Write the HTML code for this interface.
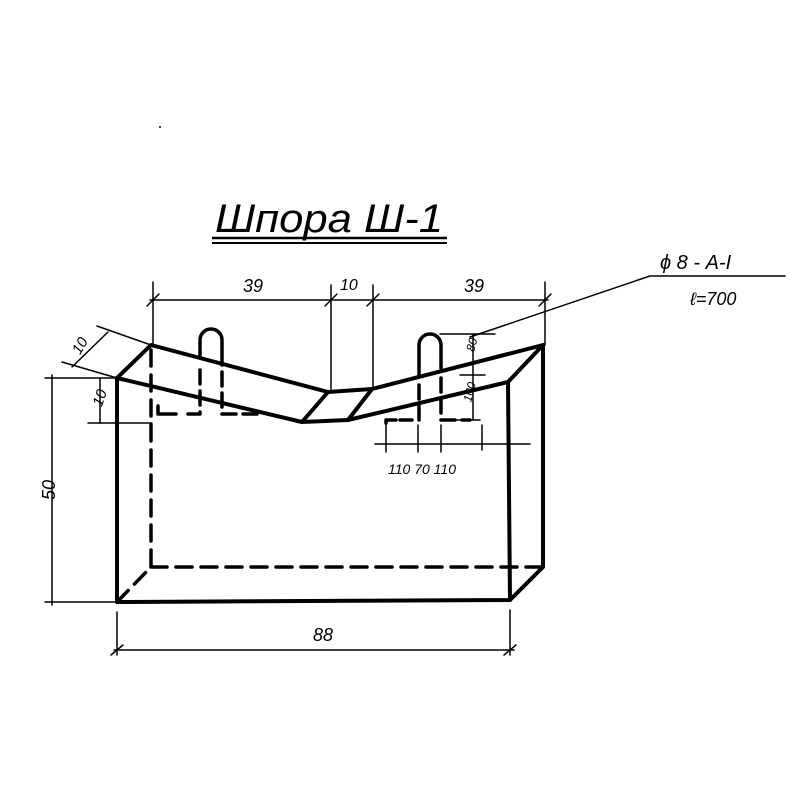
<!DOCTYPE html>
<html><head><style>body{margin:0;background:#fff}svg{display:block}text{font-family:"Liberation Sans",sans-serif;font-style:italic;fill:#000}</style></head><body>
<svg width="800" height="800" viewBox="0 0 800 800" xmlns="http://www.w3.org/2000/svg">
<rect width="800" height="800" fill="#fff"/>
<text x="215" y="232" font-size="40" textLength="228" lengthAdjust="spacingAndGlyphs">Шпора Ш-1</text>
<line x1="212" y1="238" x2="447" y2="238" stroke="#000" stroke-width="2.5"/>
<line x1="212" y1="243" x2="447" y2="243" stroke="#000" stroke-width="2"/>
<g stroke="#000" fill="none" stroke-linecap="round" stroke-linejoin="round">
<g stroke-width="4">
<polyline points="117,378 117,602 510,600 543,567 543,345"/>
<polyline points="510,600 508,382"/>
<polyline points="117,378 151,345 328,392 372,389 543,345"/>
<polyline points="117,378 302,422 348,420 508,382 543,345"/>
<line x1="328" y1="392" x2="302" y2="422"/>
<line x1="372" y1="389" x2="348" y2="420"/>
</g>
<g stroke-width="3.5" stroke-dasharray="16,9">
<line x1="151" y1="350" x2="151" y2="567"/>
<line x1="151" y1="567" x2="543" y2="567"/>
<line x1="117" y1="602" x2="151" y2="567"/>
</g>
<g stroke-width="3.5">
<path d="M200,358 L200,340 A11,11 0 0 1 222,340 L222,365"/>
<path d="M200,370 L200,414 L186,414" stroke-dasharray="14,7"/>
<path d="M222,372 L222,414 L258,414" stroke-dasharray="14,7"/>
<path d="M158,406 L158,414 L176,414"/>
</g>
<g stroke-width="3.5">
<path d="M419,375 L419,345 A11,11 0 0 1 441,345 L441,368"/>
<path d="M419,385 L419,420 L400,420" stroke-dasharray="14,7"/>
<path d="M441,378 L441,420 L470,420" stroke-dasharray="14,7"/>
<path d="M386,423 L386,420 L396,420"/>
</g>
<g stroke-width="1.5">
<line x1="150" y1="300" x2="548" y2="300"/>
<line x1="153" y1="282" x2="153" y2="345"/>
<line x1="331" y1="285" x2="331" y2="390"/>
<line x1="373" y1="285" x2="373" y2="388"/>
<line x1="545" y1="282" x2="545" y2="345"/>
<line x1="147" y1="306" x2="159" y2="294"/><line x1="325" y1="306" x2="337" y2="294"/><line x1="367" y1="306" x2="379" y2="294"/><line x1="539" y1="306" x2="551" y2="294"/>
<line x1="52" y1="375" x2="52" y2="605"/>
<line x1="45" y1="378" x2="117" y2="378"/>
<line x1="45" y1="602" x2="117" y2="602"/>
<line x1="100" y1="378" x2="100" y2="423"/>
<line x1="88" y1="423" x2="152" y2="423"/>
<line x1="62" y1="362" x2="117" y2="378"/>
<line x1="97" y1="326" x2="151" y2="345"/>
<line x1="72" y1="367" x2="108" y2="332"/>
<line x1="117" y1="612" x2="117" y2="655"/>
<line x1="510" y1="610" x2="510" y2="655"/>
<line x1="114" y1="650" x2="514" y2="650"/>
<line x1="111" y1="655" x2="123" y2="645"/><line x1="504" y1="655" x2="516" y2="645"/>
<line x1="386" y1="423" x2="386" y2="452"/>
<line x1="418" y1="425" x2="418" y2="452"/>
<line x1="441" y1="425" x2="441" y2="452"/>
<line x1="482" y1="425" x2="482" y2="450"/>
<line x1="375" y1="444" x2="530" y2="444"/>
<line x1="473" y1="334" x2="473" y2="420"/>
<line x1="440" y1="334" x2="495" y2="334"/>
<line x1="460" y1="375" x2="485" y2="375"/>
<line x1="440" y1="420" x2="480" y2="420"/>
<polyline points="470,337 650,276 785,276"/>
</g>
</g>
<text x="243" y="292" font-size="18">39</text>
<text x="340" y="290" font-size="16">10</text>
<text x="464" y="292" font-size="18">39</text>
<text x="313" y="641" font-size="18">88</text>
<text x="45" y="510" font-size="18" transform="rotate(-90 45 500)">50</text>
<text x="95" y="412" font-size="15" transform="rotate(-70 95 405)">10</text>
<text x="70" y="352" font-size="15" transform="rotate(-60 78 345)">10</text>
<text x="388" y="474" font-size="14">110 70 110</text>
<text x="470" y="363" font-size="12" transform="rotate(-75 465 355)">80</text>
<text x="465" y="415" font-size="12" transform="rotate(-75 460 405)">100</text>
<text x="660" y="269" font-size="20">ϕ 8 - A-I</text>
<text x="690" y="305" font-size="18">ℓ=700</text>
<circle cx="160" cy="127" r="1" fill="#000"/>
</svg>
</body></html>
